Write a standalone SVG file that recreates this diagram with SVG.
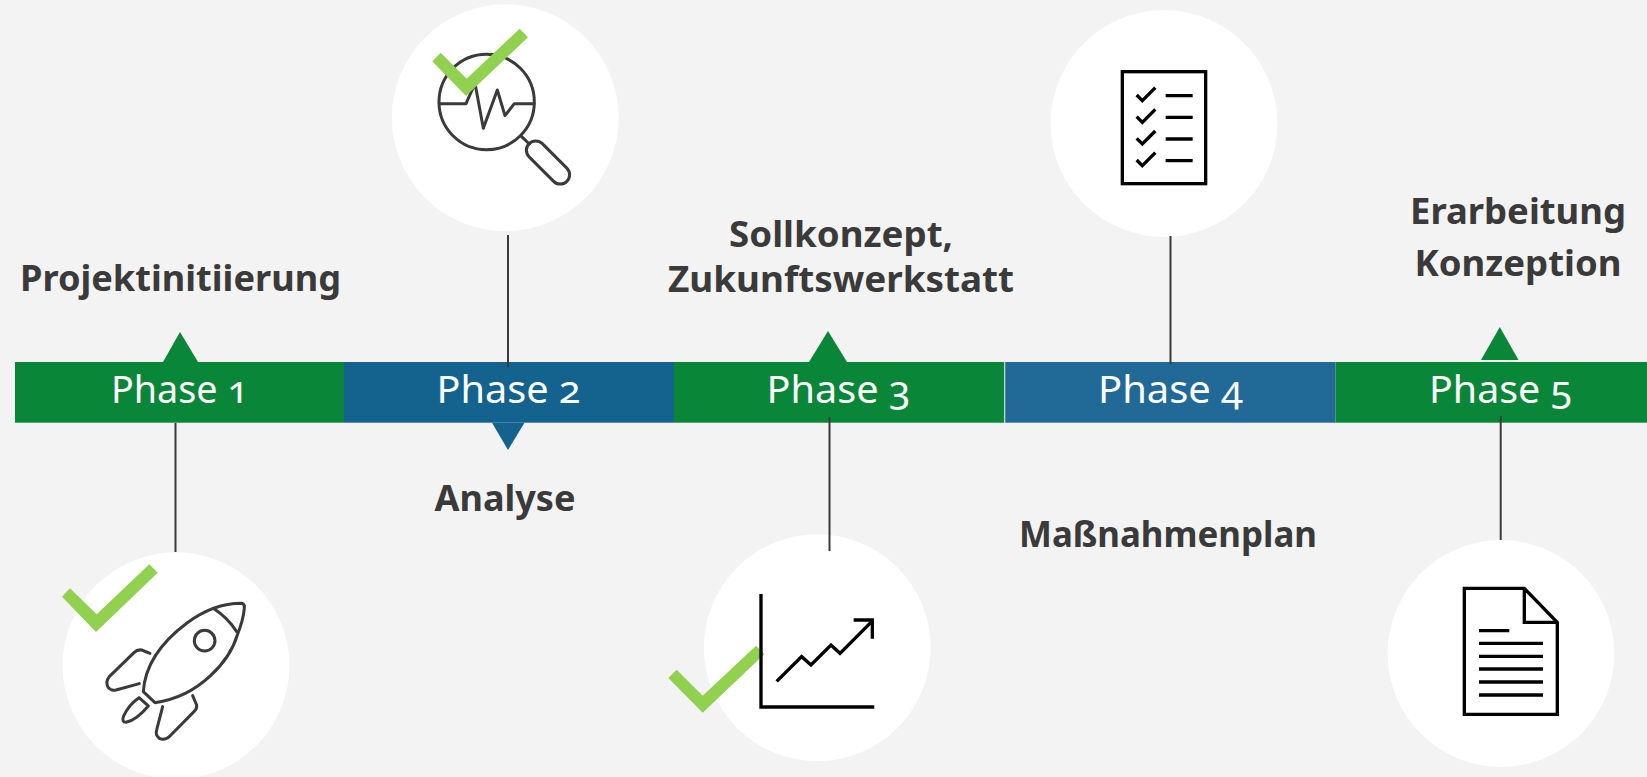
<svg xmlns="http://www.w3.org/2000/svg" width="1647" height="777" viewBox="0 0 1647 777">
<style>
.ph{font-family:"Noto Sans","Open Sans",sans-serif;font-size:38px;fill:#fff;text-anchor:middle;font-variant-numeric:oldstyle-nums}
.lb{font-family:"Noto Sans","Open Sans",sans-serif;font-weight:700;font-size:36px;fill:#3a3a3a;text-anchor:middle}
.c{fill:#fff}
.ck{fill:#92d050}
.conn{stroke:#3a3a3a;stroke-width:2;fill:none}
.g1{fill:none;stroke:#3a3a3a;stroke-width:9;stroke-linejoin:round;stroke-linecap:round}
.k1{fill:none;stroke:#000;stroke-width:10;stroke-linejoin:miter}
</style>
<rect width="1647" height="777" fill="#f3f3f3"/>
<g id="circle-1"><circle class="c" cx="176" cy="665.7" r="113.4"/></g>
<g id="circle-2"><circle class="c" cx="505.3" cy="117.7" r="113.4"/></g>
<g id="circle-3"><circle class="c" cx="817.3" cy="647.7" r="113.4"/></g>
<g id="circle-4"><circle class="c" cx="1164" cy="123.5" r="113.4"/></g>
<g id="circle-5"><circle class="c" cx="1501" cy="653.5" r="113.4"/></g>
<g id="phase-1"><rect x="15" y="362" width="329" height="60.7" fill="#0a8638"/><polygon points="163,362 180,332 198,362" fill="#0a8638"/><text class="ph" x="179.5" y="403" textLength="137" lengthAdjust="spacingAndGlyphs">Phase 1</text></g>
<g id="phase-2"><rect x="344" y="362" width="330" height="60.7" fill="#14638f"/><polygon points="492,422.7 524.5,422.7 508,450" fill="#14638f"/><text class="ph" x="508.5" y="403" textLength="144" lengthAdjust="spacingAndGlyphs">Phase 2</text></g>
<g id="phase-3"><rect x="674" y="362" width="330.2" height="60.7" fill="#0a8638"/><polygon points="809,362 828,331 847,362" fill="#0a8638"/><text class="ph" x="838.5" y="403" textLength="144" lengthAdjust="spacingAndGlyphs">Phase 3</text></g>
<g id="phase-4"><rect x="1005.2" y="362" width="330.3" height="60.7" fill="#216a97"/><text class="ph" x="1170.5" y="403" textLength="145" lengthAdjust="spacingAndGlyphs">Phase 4</text></g>
<g id="phase-5"><rect x="1335.5" y="362" width="311.5" height="60.7" fill="#0a8638"/><polygon points="1481,360 1499.8,327 1518.5,360" fill="#0a8638"/><text class="ph" x="1500.5" y="403" textLength="143" lengthAdjust="spacingAndGlyphs">Phase 5</text></g>
<g id="connectors">
<line class="conn" x1="175.5" y1="423" x2="175.5" y2="552"/>
<line class="conn" x1="508" y1="235" x2="508" y2="367"/>
<line class="conn" x1="829.5" y1="417" x2="829.5" y2="551"/>
<line class="conn" x1="1170.5" y1="236" x2="1170.5" y2="364"/>
<line class="conn" x1="1500.7" y1="416" x2="1500.7" y2="540"/>
</g>
<g id="label-1"><text class="lb" x="180.5" y="291" textLength="321" lengthAdjust="spacingAndGlyphs">Projektinitiierung</text></g>
<g id="label-2"><text class="lb" x="505" y="511" textLength="141" lengthAdjust="spacingAndGlyphs">Analyse</text></g>
<g id="label-3"><text class="lb" x="841" y="247" textLength="224" lengthAdjust="spacingAndGlyphs">Sollkonzept,</text><text class="lb" x="841" y="292" textLength="346" lengthAdjust="spacingAndGlyphs">Zukunftswerkstatt</text></g>
<g id="label-4"><text class="lb" x="1168" y="547" textLength="298" lengthAdjust="spacingAndGlyphs">Maßnahmenplan</text></g>
<g id="label-5"><text class="lb" x="1518" y="224" textLength="216" lengthAdjust="spacingAndGlyphs">Erarbeitung</text><text class="lb" x="1518" y="276" textLength="207" lengthAdjust="spacingAndGlyphs">Konzeption</text></g>
<g id="icon-rocket" transform="translate(0 520) scale(.3333)">
<path class="g1" d="M430,515C435,440 480,370 560,310C620,265 680,250 725,250Q735,252 733,265C730,300 722,320 712,345C690,420 600,530 465,548Z"/>
<path class="g1" d="M640,265Q685,295 710,335"/>
<circle class="g1" cx="614" cy="362" r="31"/>
<path class="g1" d="M450,400L425,390Q412,388 402,398L328,470Q315,485 325,503Q333,513 348,510L418,491"/>
<path class="g1" d="M578,527L590,555Q592,565 582,575L510,648Q495,663 478,655Q465,645 470,630L488,560"/>
<path class="g1" d="M417,533L445,558Q410,600 378,607Q365,607 370,590Q385,555 417,533Z"/>
</g>
<g id="icon-magnifier" transform="translate(380 0) scale(.3333)">
<circle class="g1" cx="320" cy="306" r="143"/>
<path class="g1" d="M178,311H258L285,250L310,385L352,270L375,347L403,311H462"/>
<path class="g1" d="M425,410L448,432"/>
<rect class="g1" x="424" y="459.5" width="160" height="56" rx="28" transform="rotate(45 504 487.5)"/>
</g>
<g id="check-3"><polygon class="ck" points="676.7,669.7 702.7,695.7 756,645.7 764.4,654 702.7,712.7 668.3,678"/></g>
<g id="icon-chart" transform="translate(650 520) scale(.3333)">
<path class="k1" d="M333,222V561H673"/>
<path class="k1" d="M380,484L455,410L483,435L543,375L570,400L665,305"/>
<path class="k1" d="M611,300H667V356"/>
</g>
<g id="icon-checklist" transform="translate(1100 50) scale(.3333)">
<rect class="k1" x="67" y="65" width="250" height="336"/>
<path class="k1" d="M110,135L127,152L166,113M197,137H278M110,200L127,217L166,178M197,202H278M110,265L127,282L166,243M197,267H278M110,330L127,347L166,308M197,332H278"/>
</g>
<g id="icon-document" transform="translate(1420 570) scale(.3333)">
<path class="k1" d="M133,55H313L412,157V433H133Z"/>
<path class="k1" d="M313,55V157H412"/>
<path class="k1" d="M177,182H268M177,220H369M177,259H369M177,297H369M177,336H369M177,375H369"/>
</g>
<g id="check-1"><polygon class="ck" points="70,588.3 96.7,614.3 149.3,564.3 157.7,572.7 96,632 62,596.7"/></g>
<g id="check-2"><polygon class="ck" points="440.7,52.7 466.7,78.7 519.7,28.7 528,37.3 466,96 432.3,61.3"/></g>
</svg>
